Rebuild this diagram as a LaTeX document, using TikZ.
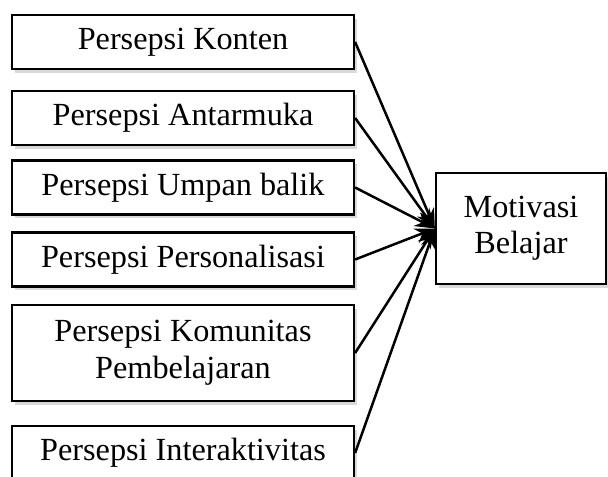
\documentclass[tikz,border=0pt]{standalone}
\usepackage{fontspec}
\setmainfont{Liberation Serif}
\usetikzlibrary{arrows.meta,positioning,shadows}
\tikzset{
  box/.style={draw, line width=0.9pt, fill=white, align=center,
              font=\fontsize{12.9}{14.6}\selectfont,
              minimum width=136.8pt, minimum height=#1, inner sep=2pt,
              drop shadow={shadow xshift=1.2pt, shadow yshift=-1.6pt, opacity=0.3}},
  box/.default=21.6pt,
  arr/.style={-{Stealth[length=8pt,width=6pt]}, line width=1pt},
}
\begin{document}
\begin{tikzpicture}[x=0.4pt, y=-0.4pt]
\clip (0,0) rectangle (608,477);
\node[box] (kon) at (183,42) {Persepsi Konten};
\node[box] (ant) at (183,118) {Persepsi Antarmuka};
\node[box] (ump) at (183,187.5) {Persepsi Umpan balik};
\node[box] (per) at (183,259.5) {Persepsi Personalisasi};
\node[box=38.4pt] (kom) at (183,353) {Persepsi Komunitas\\Pembelajaran};
\node[box] (int) at (183,453) {Persepsi Interaktivitas};
\node[box=44.4pt, minimum width=68pt] (mot) at (521,228.5) {Motivasi\\Belajar};
\foreach \n in {kon,ant,ump,per,kom,int}
  \draw[arr] (\n.east) -- (mot.west);
\end{tikzpicture}
\end{document}
